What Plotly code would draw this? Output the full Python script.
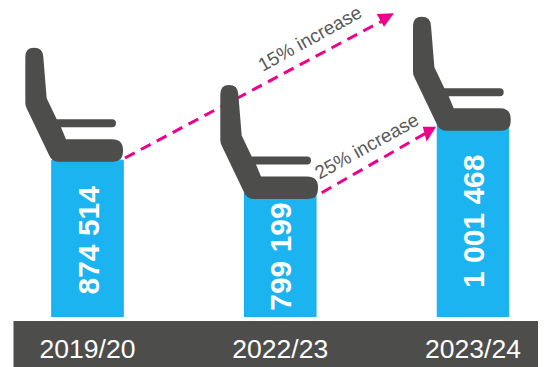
import plotly.graph_objects as go

# Passenger figures per season
seasons = ["2019/20", "2022/23", "2023/24"]
passengers = [874514, 799199, 1001468]
growth_labels = ["15% increase", "25% increase"]

W, H = 551, 367
BASELINE = 317
SLOT = 192.75
FIRST_CENTRE = 87.5
AXIS_FLOOR = 378800
PX_PER_UNIT = 0.3164 / 1000

DARK = "#4D4D4C"
BLUE = "#1BB3F0"
PINK = "#EC008C"


def px(x):
    return x / W


def py(y):
    return 1 - y / BASELINE


def seat_path(dx, dy):
    """Closed SVG path of the seat icon, shifted by (dx, dy) pixels."""
    P = lambda x, y: f"{px(x + dx):.5f},{py(y + dy):.5f}"
    return (
        f"M{P(25.3, 57)} L{P(25.3, 103)} Q{P(25.3, 106)} {P(27, 109)} "
        f"L{P(49, 155)} Q{P(52, 161.7)} {P(58, 161.7)} L{P(113, 161.7)} "
        f"Q{P(123, 161.7)} {P(123, 152)} L{P(123, 150)} Q{P(123, 139.3)} {P(112, 139.3)} "
        f"L{P(66, 139.3)} L{P(61, 127.3)} L{P(112, 127.3)} Q{P(116, 127.3)} {P(116, 123.3)} "
        f"Q{P(116, 119.3)} {P(112, 119.3)} L{P(56.7, 119.3)} L{P(46.7, 98.3)} "
        f"L{P(43.3, 57)} Q{P(43, 47.7)} {P(34, 47.7)} Q{P(25.3, 47.7)} {P(25.3, 57)} Z"
    )


def dashed(x0, y0, x1, y1):
    return dict(type="line", xref="paper", yref="paper",
                x0=px(x0), y0=py(y0), x1=px(x1), y1=py(y1),
                line=dict(color=PINK, width=3, dash="11px,7px"))


def head(a, b, c):
    pts = [f"{px(x):.5f},{py(y):.5f}" for x, y in (a, b, c)]
    return dict(type="path", xref="paper", yref="paper",
                path=f"M{pts[0]} L{pts[1]} L{pts[2]} Z",
                fillcolor=PINK, line=dict(width=0))


shapes = [
    # footer band behind the season labels
    dict(type="rect", xref="paper", yref="paper", layer="below",
         x0=px(13.5), x1=px(538), y0=py(321), y1=py(367),
         fillcolor=DARK, line=dict(width=0)),
    dashed(125, 158, 384, 20),
    head((376.7, 14), (384, 26.7), (394, 13.3)),
    dashed(321.7, 192.7, 426, 133),
    head((422.7, 126.7), (426.7, 141.7), (436, 126.7)),
]
for dx, dy in [(0, 0), (195, 37.3), (387.7, -31)]:
    shapes.append(dict(type="path", xref="paper", yref="paper",
                       path=seat_path(dx, dy), fillcolor=DARK, line=dict(width=0)))

annotations = []
for season, value, centre in zip(seasons, passengers, [240, 256.5, 222]):
    annotations.append(dict(
        x=season, xref="x", y=py(centre), yref="paper", showarrow=False,
        text=f"{value:,}".replace(",", " "), textangle=-90,
        xanchor="center", yanchor="middle",
        font=dict(family="Liberation Sans", size=30, color="white", weight="bold"),
    ))
for label, (cx, cy) in zip(growth_labels, [(309.7, 38), (366, 146)]):
    annotations.append(dict(
        x=px(cx), xref="paper", y=py(cy), yref="paper", showarrow=False,
        text=label, textangle=-29, xanchor="center", yanchor="middle",
        font=dict(family="Liberation Sans", size=19, color="#595959"),
    ))

fig = go.Figure(go.Bar(
    x=seasons, y=passengers, width=71.5 / SLOT,
    marker=dict(color=BLUE, line=dict(color="#0FAEEF", width=1)),
    hoverinfo="skip",
))
fig.update_layout(
    width=W, height=H, margin=dict(l=0, r=0, t=0, b=H - BASELINE),
    paper_bgcolor="white", plot_bgcolor="white", showlegend=False,
    shapes=shapes, annotations=annotations,
    xaxis=dict(type="category", range=[-FIRST_CENTRE / SLOT, (W - FIRST_CENTRE) / SLOT],
               showgrid=False, zeroline=False, showline=False,
               ticks="outside", ticklen=8, tickcolor="rgba(0,0,0,0)",
               tickfont=dict(family="Liberation Sans", size=26.5, color="white")),
    yaxis=dict(visible=False, range=[AXIS_FLOOR, AXIS_FLOOR + BASELINE / PX_PER_UNIT]),
)
fig.write_html("out.html", config=dict(displayModeBar=False))
